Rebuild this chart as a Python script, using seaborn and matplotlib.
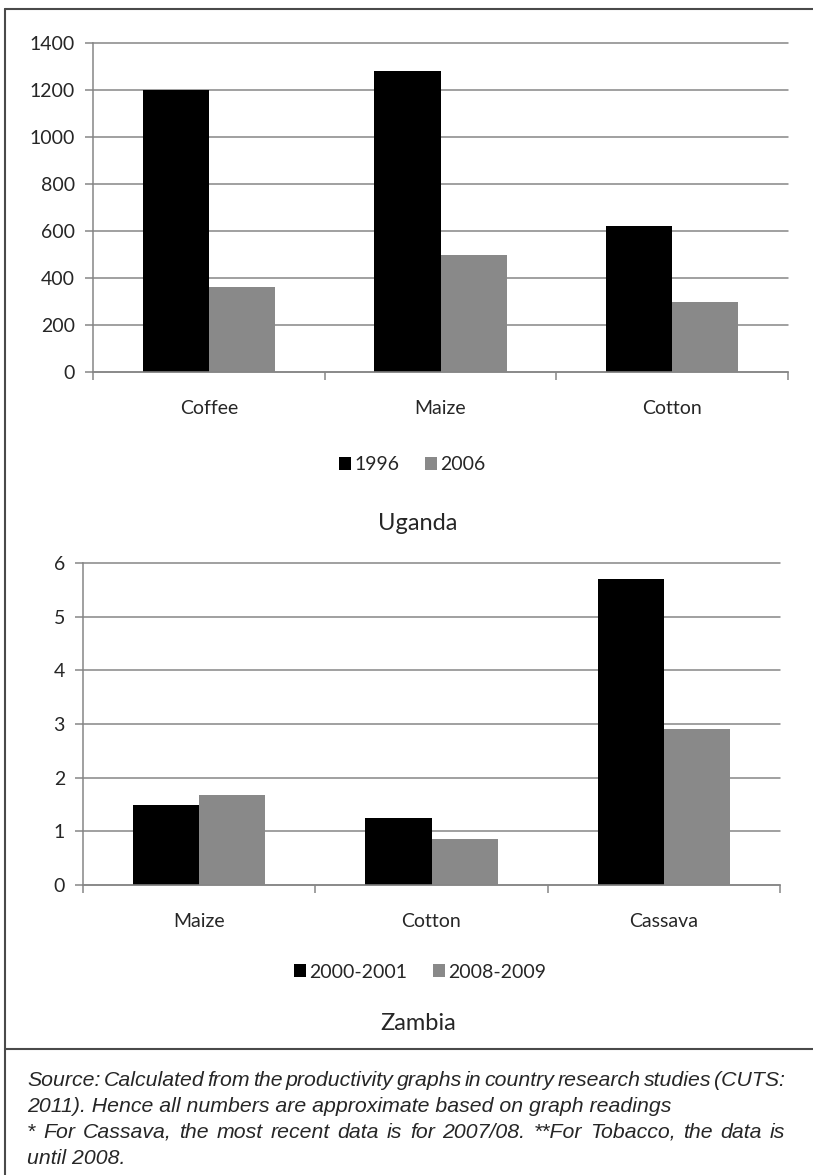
import numpy as np
import pandas as pd
import matplotlib
matplotlib.use("Agg")
import matplotlib.pyplot as plt
import seaborn as sns
from matplotlib.lines import Line2D
from matplotlib.patches import Patch

# Uganda: productivity by crop
uganda_crops = ["Coffee", "Maize", "Cotton"]
uganda_series = ["1996", "2006"]
uganda_1996 = [1200, 1280, 620]
uganda_2006 = [360, 500, 300]
uganda_yticks = [0, 200, 400, 600, 800, 1000, 1200, 1400]

# Zambia: productivity by crop
zambia_crops = ["Maize", "Cotton", "Cassava"]
zambia_series = ["2000-2001", "2008-2009"]
zambia_2000_2001 = [1.5, 1.25, 5.7]
zambia_2008_2009 = [1.68, 0.85, 2.9]
zambia_yticks = [0, 1, 2, 3, 4, 5, 6]

footnote_lines = [
    ("Source: Calculated from the productivity graphs in country research studies (CUTS:", True),
    ("2011). Hence all numbers are approximate based on graph readings", False),
    ("* For Cassava, the most recent data is for 2007/08. **For Tobacco, the data is", True),
    ("until 2008.", False),
]

W, H = 813, 1175
BAR_COLORS = ["#000000", "#898989"]
GRID = "#868686"
FRAME = "#4a4a4a"
LABEL_SIZE = 14

sns.set_style("white")
plt.rcParams["font.family"] = ["Lato", "DejaVu Sans"]

fig = plt.figure(figsize=(W / 100, H / 100), dpi=100)


def fx(px):
    return px / W


def fy(py):
    return 1 - py / H


def draw_panel(rect, crops, names, values, yticks, title, legend_xy, title_y):
    ax = fig.add_axes(rect)
    df = pd.DataFrame({
        "crop": crops * len(names),
        "series": np.repeat(names, len(crops)),
        "value": np.concatenate(values),
    })
    sns.barplot(data=df, x="crop", y="value", hue="series", order=crops,
                hue_order=names, palette=BAR_COLORS, saturation=1, width=0.57,
                edgecolor="none", linewidth=0, legend=False, ax=ax)
    ax.set_xlim(-0.5, len(crops) - 0.5)
    ax.set_ylim(0, yticks[-1])
    ax.set_yticks(yticks)
    ax.set_yticklabels([str(t) for t in yticks])
    ax.yaxis.grid(True, color=GRID, lw=1.1)
    for line in ax.get_ygridlines():
        line.set_clip_on(False)
    ax.set_axisbelow(True)
    for side in ("top", "right"):
        ax.spines[side].set_visible(False)
    for side in ("left", "bottom"):
        ax.spines[side].set_color(GRID)
        ax.spines[side].set_linewidth(1.1)
    ax.set_xlabel("")
    ax.set_ylabel("")
    ax.tick_params(axis="y", direction="out", length=6, width=1.1, color=GRID,
                   labelsize=LABEL_SIZE, pad=7, left=True)
    ax.tick_params(axis="x", which="major", length=0, labelsize=LABEL_SIZE, pad=20)
    ax.set_xticks(np.arange(-0.5, len(crops)), minor=True)
    ax.tick_params(axis="x", which="minor", direction="out", length=6,
                   width=1.1, color=GRID, bottom=True)
    handles = [Patch(facecolor=c, edgecolor="none") for c in BAR_COLORS]
    fig.legend(handles, names, loc="center",
               bbox_to_anchor=(fx(legend_xy[0]), fy(legend_xy[1])),
               ncol=2, frameon=False, fontsize=LABEL_SIZE, handlelength=0.65,
               handleheight=0.65, handletextpad=0.15, columnspacing=1.3)
    fig.text(fx(418), fy(title_y), title, ha="center", va="center", fontsize=17)
    return ax


draw_panel([fx(93), fy(372), fx(788) - fx(93), fy(43) - fy(372)],
           uganda_crops, uganda_series, [uganda_1996, uganda_2006],
           uganda_yticks, "Uganda", (412, 465), 523)

draw_panel([fx(83), fy(885), fx(780) - fx(83), fy(563) - fy(885)],
           zambia_crops, zambia_series, [zambia_2000_2001, zambia_2008_2009],
           zambia_yticks, "Zambia", (420, 972), 1023)

# Outer frame and separator above the source note
for xs, ys in [((5, 5), (9, H)), ((5, W), (9, 9)), ((5, W), (1049, 1049))]:
    fig.add_artist(Line2D([fx(x) for x in xs], [fy(y) for y in ys],
                          color=FRAME, lw=1.5))

# Source note, justified where the paragraph wraps
note_font = dict(family=["Liberation Sans"], style="italic", fontsize=15.3,
                 va="center", ha="left")
fig.canvas.draw()
renderer = fig.canvas.get_renderer()
x0, x1 = 27, 785
for i, (line, justify) in enumerate(footnote_lines):
    y = fy(1081 + i * 25.7)
    if not justify:
        fig.text(fx(x0), y, line, **note_font)
        continue
    words = line.split(" ")
    texts = [fig.text(0, y, w, **note_font) for w in words]
    widths = [t.get_window_extent(renderer).width for t in texts]
    gap = (x1 - x0 - sum(widths)) / (len(words) - 1)
    x = x0
    for t, w in zip(texts, widths):
        t.set_x(fx(x))
        x += w + gap

fig.savefig("out.png", dpi=100)
